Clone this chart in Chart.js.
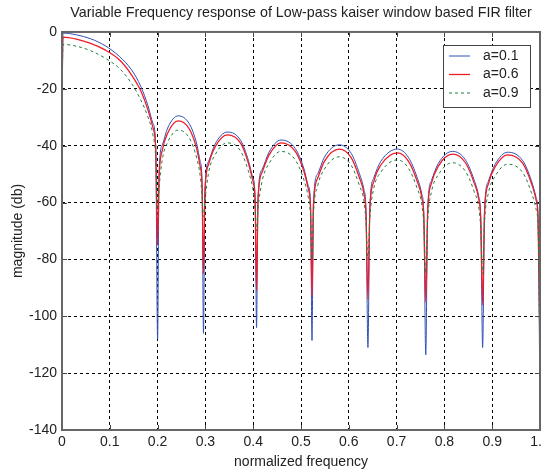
<!DOCTYPE html>
<html>
<head>
<meta charset="utf-8">
<script src="https://cdn.jsdelivr.net/npm/chart.js@4"></script>
<style>
  body { margin: 0; background: #fff; }
  canvas { display: block; }
</style>
</head>
<body>
<canvas id="mainGraph" width="542" height="474"></canvas>
<script>
// normalized frequency samples (shared by all three curves)
var freq = [
    0, 0.002, 0.03, 0.06, 0.09, 0.12, 0.145, 0.165, 0.18, 0.19, 0.196, 0.2,
    0.203, 0.210, 0.221, 0.243, 0.267, 0.282, 0.289, 0.293, 0.296,
    0.299, 0.307, 0.320, 0.346, 0.374, 0.390, 0.399, 0.404, 0.407,
    0.410, 0.419, 0.433, 0.458, 0.488, 0.506, 0.515, 0.520, 0.523,
    0.526, 0.535, 0.549, 0.580, 0.605, 0.622, 0.632, 0.636, 0.640,
    0.644, 0.652, 0.667, 0.702, 0.725, 0.743, 0.753, 0.757, 0.761,
    0.765, 0.773, 0.787, 0.817, 0.844, 0.862, 0.872, 0.876, 0.880,
    0.884, 0.892, 0.906, 0.932, 0.964, 0.982, 0.992, 0.996, 1.0
];

// magnitude (db)
var magA01 = [
    -39, -0.4, -1.0, -2.4, -4.8, -8.6, -13.2, -19.2, -26, -32, -40, -108,
    -50, -39.7, -33.8, -29.5, -32.5, -39.5, -45.5, -52.5, -106,
    -55.7, -45.4, -39.5, -35.2, -38.2, -45.2, -51.2, -58.2, -104,
    -58.5, -48.2, -42.3, -38, -41, -48, -54, -61, -108.5,
    -60.2, -49.9, -44, -39.7, -42.7, -49.7, -55.7, -62.7, -111,
    -61.7, -51.4, -45.5, -41.2, -44.2, -51.2, -57.2, -64.2, -113.6,
    -62.5, -52.2, -46.3, -42, -45, -52, -58, -65, -111,
    -62.8, -52.5, -46.6, -42.3, -45.3, -52.3, -58.3, -65.3, -132
];
var magA06 = [
    -22, -1.8, -2.5, -4.0, -6.3, -9.8, -15, -20.8, -27.5, -33.5, -41, -75,
    -51.8, -41.5, -35.6, -31.3, -34.3, -41.3, -47.3, -54.3, -85,
    -56.7, -46.4, -40.5, -36.2, -39.2, -46.2, -52.2, -59.2, -91,
    -59.5, -49.2, -43.3, -39, -42, -49, -55, -62, -93,
    -61.7, -51.4, -45.5, -41.2, -44.2, -51.2, -57.2, -64.2, -94,
    -63, -52.7, -46.8, -42.5, -45.5, -52.5, -58.5, -65.5, -95,
    -63.5, -53.2, -47.3, -43, -46, -53, -59, -66, -96,
    -63.7, -53.4, -47.5, -43.2, -46.2, -53.2, -59.2, -66.2, -113
];
var magA09 = [
    -24, -4.4, -5.0, -6.6, -9.2, -12.8, -18, -24, -30, -36, -44, -62,
    -55, -44.7, -38.8, -34.5, -37.5, -44.5, -50.5, -57.5, -65,
    -59.5, -49.2, -43.3, -39, -42, -49, -55, -62, -70,
    -62.5, -52.2, -46.3, -42, -45, -52, -58, -65, -80,
    -64.4, -54.1, -48.2, -43.9, -46.9, -53.9, -59.9, -66.9, -80,
    -65.5, -55.2, -49.3, -45, -48, -55, -61, -68, -85,
    -66.5, -56.2, -50.3, -46, -49, -56, -62, -69, -85,
    -67, -56.7, -50.8, -46.5, -49.5, -56.5, -62.5, -69.5, -120
];

var seriesNames = ["a=0.1", "a=0.6", "a=0.9"];

function toPoints(mag) {
    return freq.map(function (f, i) { return {x: f, y: mag[i]}; });
}

var FONT = "'Liberation Sans', Arial, sans-serif";
Chart.defaults.font.family = FONT;
Chart.defaults.color = "#222";

// box round the axes, inward tick marks, legend in the upper right corner
var matlabBox = {
    id: "matlabBox",
    afterDraw: function (chart) {
        var ctx = chart.ctx, a = chart.chartArea;
        ctx.save();
        ctx.strokeStyle = "#444";
        ctx.lineWidth = 1;
        chart.scales.x.ticks.forEach(function (t) {
            var px = Math.round(chart.scales.x.getPixelForValue(t.value)) + 0.5;
            ctx.beginPath();
            ctx.moveTo(px, a.bottom); ctx.lineTo(px, a.bottom - 5);
            ctx.moveTo(px, a.top); ctx.lineTo(px, a.top + 5);
            ctx.stroke();
        });
        chart.scales.y.ticks.forEach(function (t) {
            var py = Math.round(chart.scales.y.getPixelForValue(t.value)) + 0.5;
            ctx.beginPath();
            ctx.moveTo(a.left, py); ctx.lineTo(a.left + 5, py);
            ctx.moveTo(a.right, py); ctx.lineTo(a.right - 5, py);
            ctx.stroke();
        });
        ctx.strokeStyle = "#666";
        ctx.lineWidth = 2;
        ctx.strokeRect(a.left, a.top, a.right - a.left, a.bottom - a.top);

        // legend
        var lx = 443, ly = 45, lw = 87, lh = 62;
        ctx.fillStyle = "#fff";
        ctx.fillRect(lx, ly, lw, lh);
        ctx.strokeStyle = "#444";
        ctx.lineWidth = 1;
        ctx.strokeRect(lx + 0.5, ly + 0.5, lw, lh);
        ctx.font = "14px " + FONT;
        ctx.textBaseline = "middle";
        chart.data.datasets.forEach(function (ds, i) {
            var y = ly + 11 + i * 18.5;
            ctx.strokeStyle = ds.borderColor;
            ctx.lineWidth = ds.borderWidth;
            ctx.setLineDash(ds.borderDash || []);
            ctx.beginPath();
            ctx.moveTo(lx + 6, y);
            ctx.lineTo(lx + 27, y);
            ctx.stroke();
            ctx.setLineDash([]);
            ctx.fillStyle = "#222";
            ctx.fillText(ds.label, lx + 40, y);
        });
        ctx.restore();
    }
};

var ctx = document.getElementById("mainGraph").getContext("2d");
var chart = new Chart(ctx, {
    type: "line",
    data: {
        datasets: [
            {label: seriesNames[0], data: toPoints(magA01), borderColor: "#3050b8", borderWidth: 1, order: 3},
            {label: seriesNames[1], data: toPoints(magA06), borderColor: "#f01c28", borderWidth: 1.3, order: 2},
            {label: seriesNames[2], data: toPoints(magA09), borderColor: "#1e8040", borderWidth: 1, borderDash: [3, 3], order: 1}
        ]
    },
    options: {
        responsive: false,
        animation: false,
        events: [],
        parsing: false,
        elements: {
            point: {radius: 0},
            line: {cubicInterpolationMode: "monotone", fill: false}
        },
        layout: {padding: {left: 0, right: 2, top: 0, bottom: 0}},
        plugins: {
            legend: {display: false},
            tooltip: {enabled: false},
            title: {
                display: true,
                fullSize: false,
                text: "Variable Frequency response of Low-pass kaiser window based FIR filter",
                font: {size: 14.3, weight: "normal"},
                color: "#222",
                padding: {top: 4, bottom: 10.8}
            }
        },
        scales: {
            x: {
                type: "linear",
                min: 0,
                max: 1,
                ticks: {stepSize: 0.1, autoSkip: false, maxRotation: 0, padding: 4, font: {size: 14}, color: "#222"},
                grid: {color: "#000", drawTicks: false},
                border: {display: false, dash: [3, 3]},
                title: {display: true, text: "normalized frequency", font: {size: 14}, color: "#222", padding: {top: 0, bottom: 3.6}},
                afterFit: function (s) { s.height = 44; s.paddingLeft = 0; s.paddingRight = 0; }
            },
            y: {
                min: -140,
                max: 0,
                ticks: {stepSize: 20, padding: 5, font: {size: 14}, color: "#222"},
                grid: {color: "#000", drawTicks: false},
                border: {display: false, dash: [3, 3]},
                title: {display: true, text: "magnitude (db)", font: {size: 14}, color: "#222", padding: {top: 9.6, bottom: 0}},
                afterFit: function (s) { s.width = 62; s.paddingTop = 0; s.paddingBottom = 0; }
            }
        }
    },
    plugins: [matlabBox]
});
</script>
</body>
</html>
